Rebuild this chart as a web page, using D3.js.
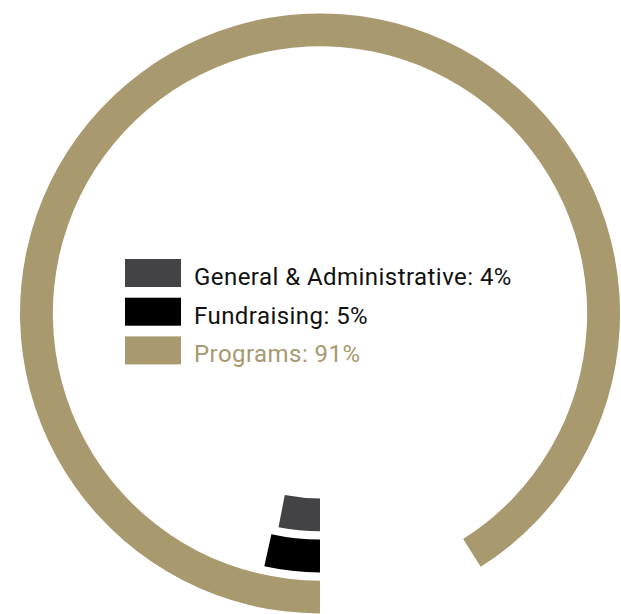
<!DOCTYPE html>
<html><head><meta charset="utf-8">
<script src="https://cdn.jsdelivr.net/npm/d3@7"></script>
<style>html,body{margin:0;padding:0;background:#fff;}</style>
</head><body>
<svg id="chart" width="621" height="614"></svg>
<script>
const categories = ["General & Administrative", "Fundraising", "Programs"];
const values = [4, 5, 91];               // percentages shown in legend
const drawnShare = [3.05, 3.45, 91];     // arc extent as drawn in the reference (% of full circle)
const colors = ["#434244", "#000000", "#A8996E"];
const textColors = ["#111111", "#111111", "#A8996E"];

const svg = d3.select("#chart");
const cx = 320, cy = 313.5;
const g = svg.append("g").attr("transform", `translate(${cx},${cy})`);

const rScale = d3.scaleBand().domain(categories).range([185, 300]).paddingInner(0.2);
const aScale = d3.scaleLinear().domain([0, 100]).range([0, 2 * Math.PI]);
const start = Math.PI;

const arc = d3.arc()
  .innerRadius(d => rScale(d.cat))
  .outerRadius(d => rScale(d.cat) + rScale.bandwidth())
  .startAngle(start)
  .endAngle(d => start + aScale(d.share));

const data = categories.map((c, i) => ({cat: c, share: drawnShare[i], value: values[i], color: colors[i], tc: textColors[i]}));

g.selectAll("path.bar").data(data).join("path")
  .attr("class", "bar")
  .attr("d", arc)
  .attr("fill", d => d.color);

const legend = svg.append("g").attr("transform", "translate(125,259)");
const row = legend.selectAll("g").data(data).join("g")
  .attr("transform", (d, i) => `translate(0,${i * 38.7})`);
row.append("rect").attr("width", 56).attr("height", 28).attr("fill", d => d.color);
row.append("text")
  .attr("x", 69).attr("y", 26)
  .attr("font-family", "Roboto, sans-serif")
  .attr("font-size", 24)
  .attr("letter-spacing", 0.45)
  .attr("fill", d => d.tc)
  .text(d => `${d.cat}: ${d.value}%`);
</script>
</body></html>
